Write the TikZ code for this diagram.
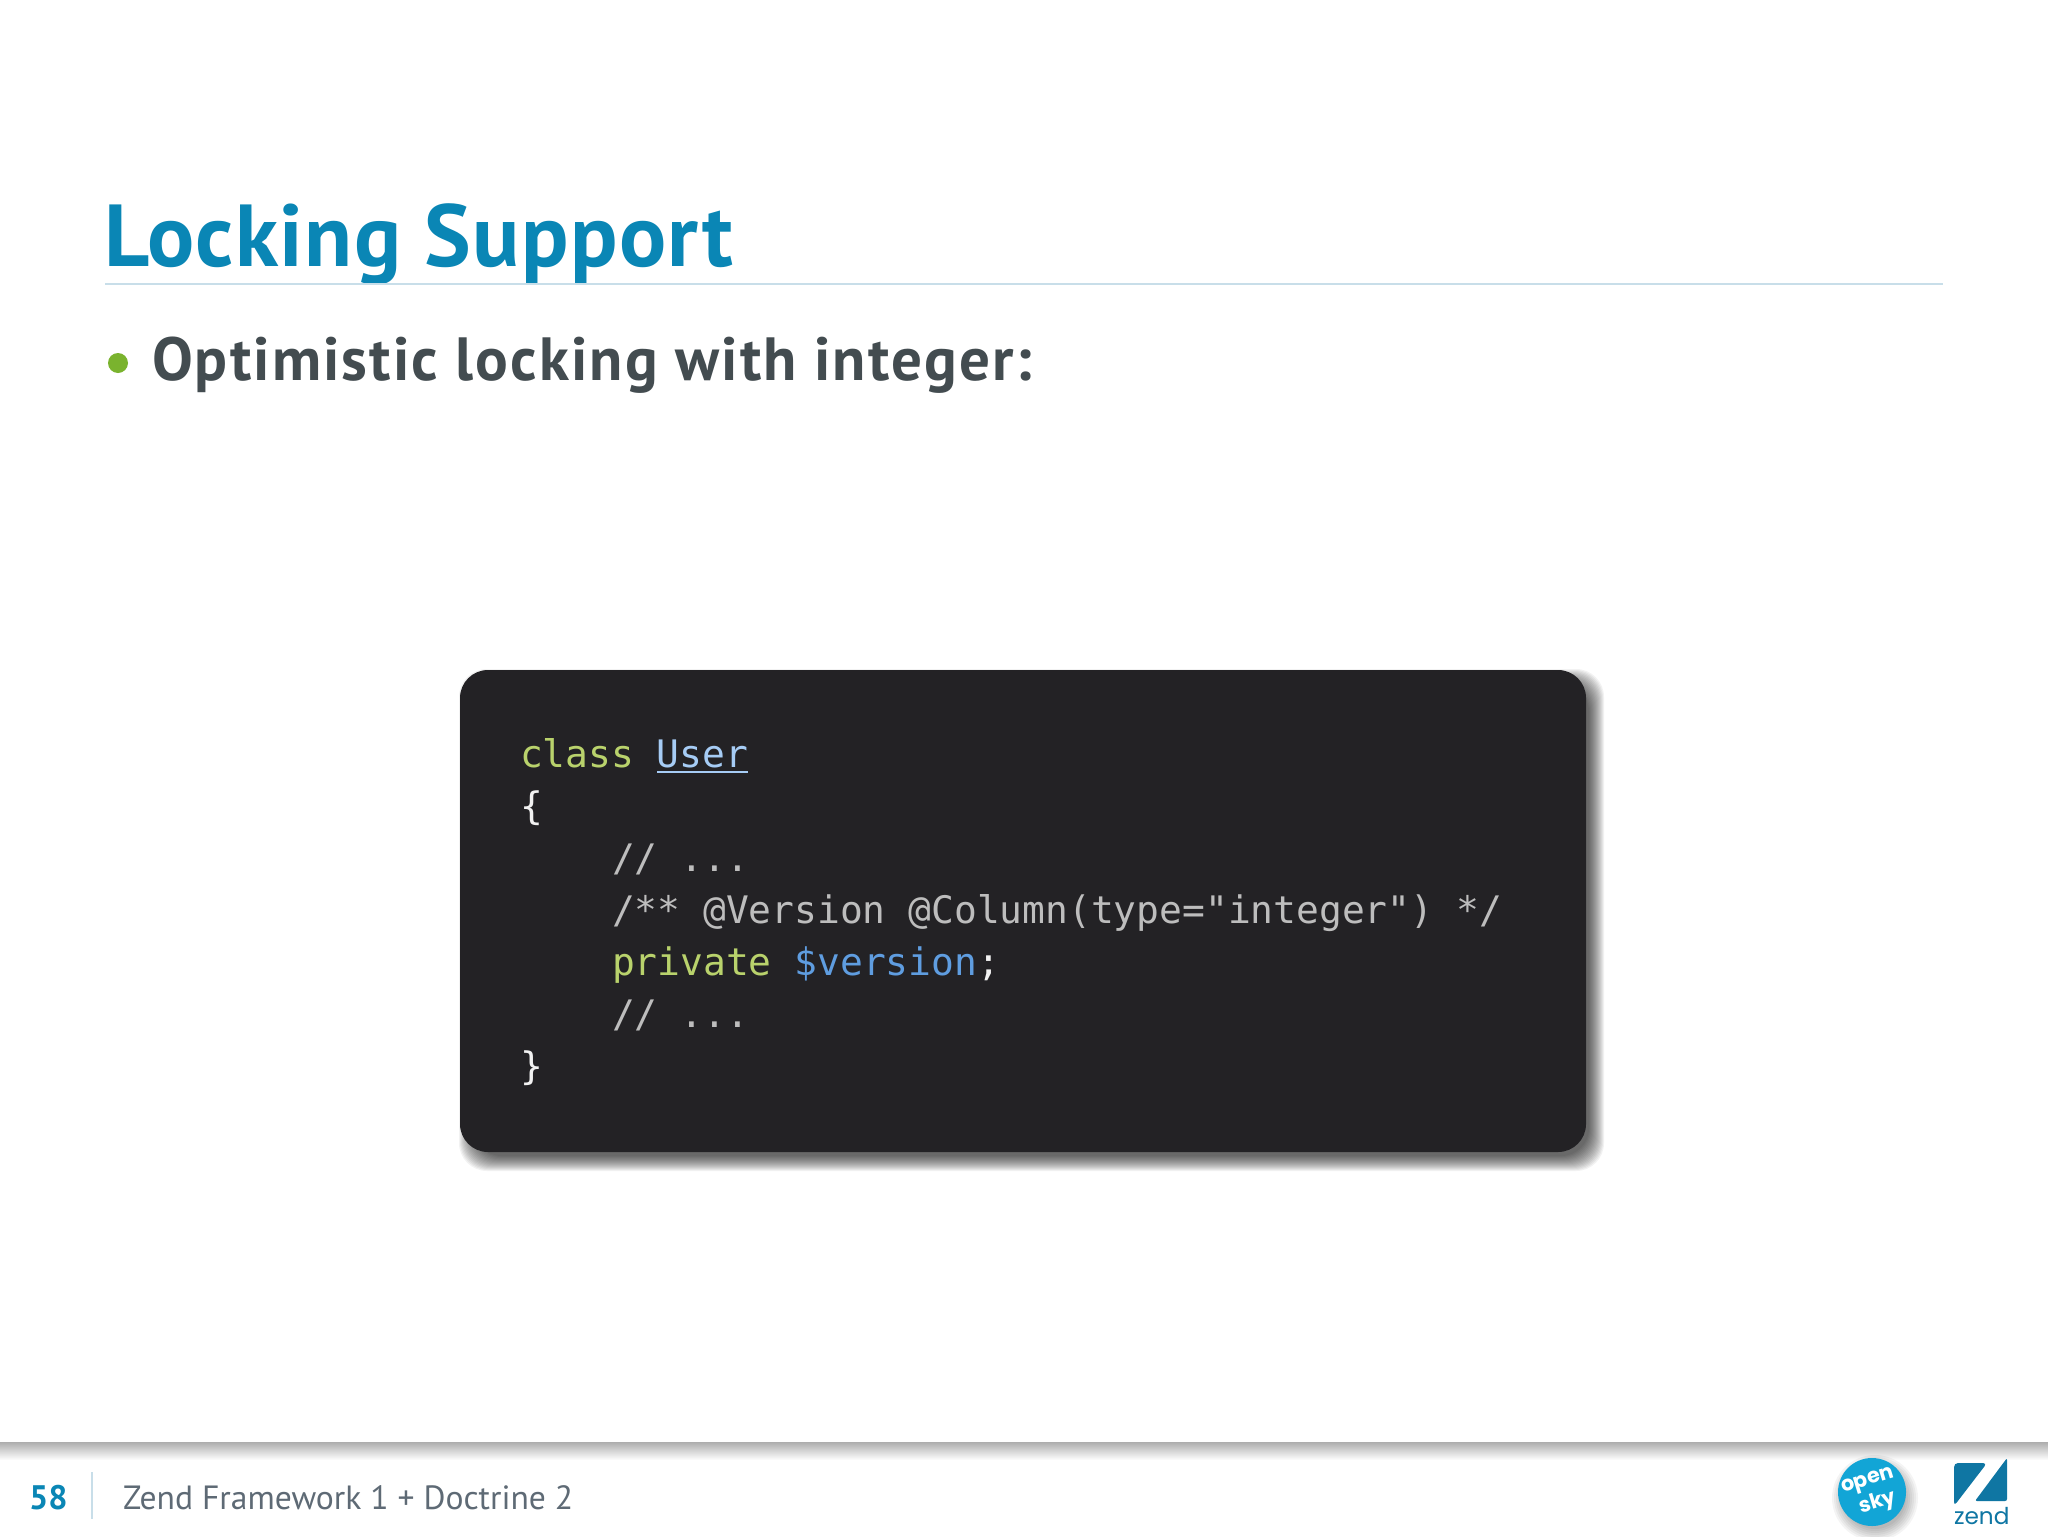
\documentclass[tikz,border=0pt]{standalone}
\usepackage{fontspec}
\setmainfont{PT Sans}
\newfontfamily\codefont{DejaVu Sans Mono}
\newfontfamily\logofont{Poppins}
\newfontfamily\titlefont[LetterSpace=1.5]{PT Sans}
\newfontfamily\subfont[LetterSpace=3.5]{PT Sans}
\definecolor{titleblue}{HTML}{0A86B5}
\definecolor{ruleblue}{HTML}{C8DEE9}
\definecolor{bodygrey}{HTML}{434C50}
\definecolor{footgrey}{HTML}{5E6A75}
\definecolor{bulletgreen}{HTML}{7AB32E}
\definecolor{panel}{HTML}{232225}
\definecolor{kw}{HTML}{B9D26C}
\definecolor{cls}{HTML}{A6CCF5}
\definecolor{var}{HTML}{5F9DE0}
\definecolor{cmt}{HTML}{BDBDBD}
\definecolor{plain}{HTML}{F2F2F2}
\definecolor{skyblue}{HTML}{12A5D6}
\definecolor{zendblue}{HTML}{0F76A3}
\tikzset{
  txt/.style={inner sep=0pt,outer sep=0pt,anchor=base west},
  code/.style={txt,font=\codefont\fontsize{18.95}{19}\selectfont,text=cmt},
  badgetext/.style={txt,anchor=center,rotate=17,text=white,font=\logofont\bfseries\fontsize{10.4}{10.4}\selectfont},
}
\begin{document}
\begin{tikzpicture}[x=0.5pt,y=-0.5pt]
\useasboundingbox (0,0) rectangle (2048,1536);
\fill[white] (0,0) rectangle (2048,1536);
% title
\node[txt,text=titleblue,font=\titlefont\bfseries\fontsize{44}{44}\selectfont] (title) at (104,266) {Locking Support};
\draw[ruleblue,line width=0.6pt] (105,284) -- (1943,284);
% bullet
\fill[bulletgreen] (118,363) circle (10);
\node[txt,text=bodygrey,font=\subfont\bfseries\fontsize{30.5}{30.5}\selectfont] (sub) at (152,380) {Optimistic locking with integer:};
% panel shadow
\foreach \e in {11,10,...,-4}{
  \fill[black,opacity=0.05,rounded corners=14pt]
    (460+10-\e,670+10-\e) rectangle (1586+7+\e,1152+8+\e);
}
\fill[panel,rounded corners=14pt] (460,670) rectangle (1586,1152);
% code
\node[code] (l1) at (520,767) {\textcolor{kw}{class} \textcolor{cls}{User}};
\draw[cls,line width=1.2pt] (657,772) -- (748,772);
\node[code,text=plain] (l2) at (520,819) {\{};
\node[code] (l3) at (612,871) {// ...};
\node[code] (l4) at (612,923) {/** @Version @Column(type="integer") */};
\node[code] (l5) at (612,975) {\textcolor{kw}{private} \textcolor{var}{\$version}\textcolor{plain}{;}};
\node[code] (l6) at (612,1027) {// ...};
\node[code,text=plain] (l7) at (520,1079) {\}};
% footer
\shade[top color=black!32,bottom color=white] (0,1442) rectangle (2048,1460);
\draw[ruleblue,line width=0.6pt] (92,1472) -- (92,1519);
\node[txt,text=titleblue,font=\bfseries\fontsize{17}{17}\selectfont] (num) at (29,1509) {58};
\node[txt,text=footgrey,font=\fontsize{16.8}{17}\selectfont] (foot) at (123,1509) {Zend Framework 1 + Doctrine 2};
% open sky badge
\foreach \e in {12,10,...,0}{
  \fill[black,opacity=0.045] (1875,1498) circle (31+\e);
}
\fill[skyblue] (1872,1492) circle (34);
\node[badgetext] (open) at (1868,1482) {open};
\node[badgetext] (sky) at (1878,1503) {sky};
% zend logo
\fill[zendblue,rounded corners=2pt] (1954,1463) -- (1987,1463) -- (1954,1506) -- cycle;
\fill[zendblue,rounded corners=1pt] (2007,1458) -- (2007,1501) -- (1975,1501) -- cycle;
\node[txt,text=zendblue,font=\logofont\fontsize{11.6}{12}\selectfont] (zend) at (1954,1524) {zend};
\end{tikzpicture}
\end{document}
